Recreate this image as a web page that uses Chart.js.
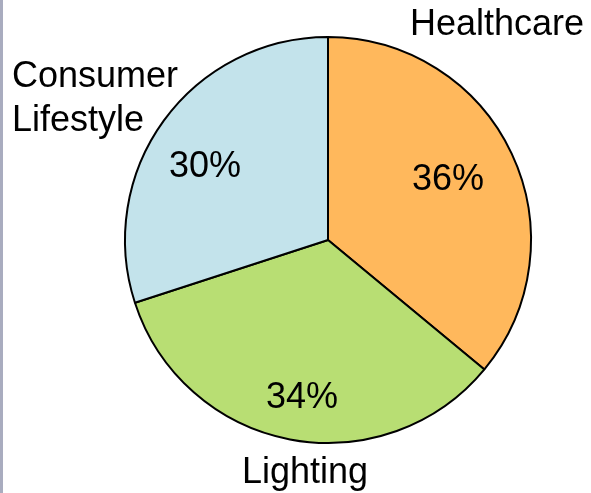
<!DOCTYPE html>
<html>
<head>
<meta charset="utf-8">
<script src="https://cdn.jsdelivr.net/npm/chart.js@4"></script>
<style>
    html, body { margin: 0; padding: 0; background: #ffffff; }
    #wrap { width: 591px; height: 493px; position: relative; }
</style>
</head>
<body>
<div id="wrap"><canvas id="pieChart" width="591" height="493"></canvas></div>
<script>
// Chart data
const segments = ['Healthcare', 'Lighting', 'Consumer Lifestyle'];
const shares = [36, 34, 30];
const percentLabels = ['36%', '34%', '30%'];
const sliceColors = ['#FFB85C', '#B8DE73', '#C3E3EB'];

// Where the percentage text sits, relative to the pie centre (in radii)
const percentOffsets = [
    {dx: 0.591, dy: -0.293},
    {dx: -0.128, dy: 0.781},
    {dx: -0.606, dy: -0.360}
];

const FONT = '36px "Liberation Sans", Arial, sans-serif';

// Grey rule down the left edge of the slide
const edgeRule = {
    id: 'edgeRule',
    beforeDraw(chart) {
        const ctx = chart.ctx;
        ctx.save();
        ctx.fillStyle = '#A9ACBF';
        ctx.fillRect(0, 0, 3, chart.height);
        ctx.restore();
    }
};

// Category names outside the pie and percentages inside
const sliceText = {
    id: 'sliceText',
    afterDatasetsDraw(chart) {
        const ctx = chart.ctx;
        const arc = chart.getDatasetMeta(0).data[0];
        const cx = arc.x, cy = arc.y, r = arc.outerRadius;

        ctx.save();
        ctx.fillStyle = '#000000';
        ctx.font = FONT;

        // percentages
        ctx.textAlign = 'center';
        ctx.textBaseline = 'middle';
        percentLabels.forEach((txt, i) => {
            const o = percentOffsets[i];
            ctx.fillText(txt, cx + o.dx * r, cy + o.dy * r);
        });

        // outside labels
        ctx.textBaseline = 'alphabetic';
        ctx.textAlign = 'center';
        ctx.fillText(segments[0], 497, 35);
        ctx.fillText(segments[1], 305, 483);
        ctx.textAlign = 'left';
        const words = segments[2].split(' ');
        ctx.fillText(words[0], 12, 87);
        ctx.fillText(words[1], 12, 131);
        ctx.restore();
    }
};

const pieChart = new Chart(document.getElementById('pieChart').getContext('2d'), {
    type: 'pie',
    data: {
        labels: segments,
        datasets: [{
            data: shares,
            backgroundColor: sliceColors,
            borderColor: '#000000',
            borderWidth: 2
        }]
    },
    options: {
        responsive: false,
        animation: false,
        layout: {
            padding: {left: 120, right: 55, top: 36, bottom: 49}
        },
        plugins: {
            legend: {display: false},
            tooltip: {enabled: false}
        }
    },
    plugins: [edgeRule, sliceText]
});
</script>
</body>
</html>
